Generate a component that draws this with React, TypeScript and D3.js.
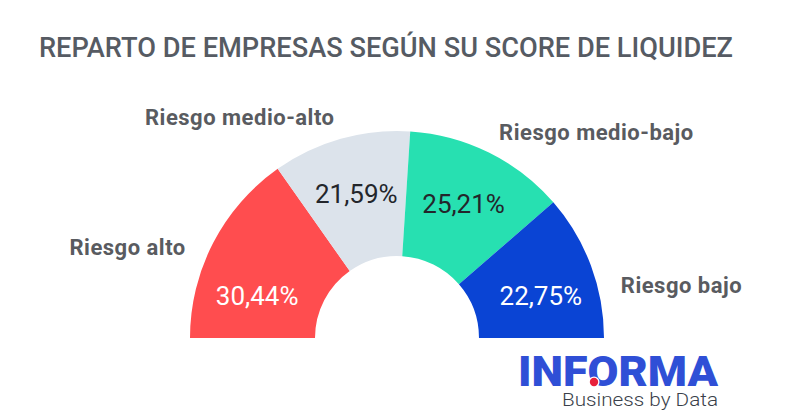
import * as d3 from 'd3';

// datos del gráfico
const categories = ['Riesgo alto', 'Riesgo medio-alto', 'Riesgo medio-bajo', 'Riesgo bajo'];
const shares = [30.44, 21.59, 25.21, 22.75];
const sliceColors = ['#FF4D4F', '#DCE3EB', '#27E0B1', '#0A44D4'];
const valueColors = ['#ffffff', '#23262b', '#23262b', '#ffffff'];
const title = 'REPARTO DE EMPRESAS SEGÚN SU SCORE DE LIQUIDEZ';

const W = 812;
const H = 419;
const cx = 397;
const cy = 338;
const outerR = 207;
const innerR = 82;

const fmt = (v: number) => v.toFixed(2).replace('.', ',') + '%';

type Slice = d3.PieArcDatum<number>;

// position along a ray; end slices get their label pulled toward the baseline
const polar = (d: Slice, i: number, r: number, endElev: (e: number, side: number) => number) => {
	const mid = (d.startAngle + d.endAngle) / 2;
	let elev = Math.PI / 2 - Math.abs(mid);
	if (i === 0 || i === shares.length - 1) elev = endElev(elev, Math.sign(mid));
	const a = Math.sign(mid) * (Math.PI / 2 - elev);
	return [cx + r * Math.sin(a), cy - r * Math.cos(a), mid] as const;
};

export default function App() {
	const pie = d3.pie<number>()
		.sort(null)
		.startAngle(-Math.PI / 2)
		.endAngle(Math.PI / 2);
	const arcs = pie(shares);

	const arc = d3.arc<Slice>()
		.innerRadius(innerR)
		.outerRadius(outerR);

	const font = 'Roboto, "Open Sans", sans-serif';

	return (
		<svg
			width={W}
			height={H}
			style={{ position: 'absolute', left: 0, top: 0, background: '#fff' }}
		>
			<text
				x={39}
				y={57}
				fontFamily={font}
				fontWeight={500}
				fontSize={28}
				fill="#565b63"
				textLength={694}
				lengthAdjust="spacingAndGlyphs"
			>
				{title}
			</text>

			<g>
				{arcs.map((d, i) => (
					<path
						key={categories[i]}
						d={arc(d) ?? undefined}
						transform={`translate(${cx},${cy})`}
						fill={sliceColors[i]}
					/>
				))}
			</g>

			<g fontFamily={font} fontSize={26}>
				{arcs.map((d, i) => {
					const [x, y] = polar(d, i, 150, () => (16.5 * Math.PI) / 180);
					return (
						<text
							key={categories[i]}
							x={x + (i === 0 ? 4 : 0)}
							y={y}
							dy="0.36em"
							textAnchor="middle"
							fill={valueColors[i]}
						>
							{fmt(shares[i])}
						</text>
					);
				})}
			</g>

			<g fontFamily={font} fontWeight={700} fontSize={22} fill="#595b60" letterSpacing={0.5}>
				{arcs.map((d, i) => {
					const [x, y, mid] = polar(d, i, 230, (e, side) => e * (side < 0 ? 0.85 : 0.65));
					return (
						<text
							key={categories[i]}
							x={x}
							y={y}
							dy="0.36em"
							textAnchor={mid < 0 ? 'end' : 'start'}
						>
							{categories[i]}
						</text>
					);
				})}
			</g>

			{/* logo */}
			<g fontFamily={font}>
				<text
					x={518}
					y={386}
					fontWeight={900}
					fontSize={43}
					fill="#2F4FD6"
					textLength={200}
					lengthAdjust="spacingAndGlyphs"
				>
					INFORMA
				</text>
				<circle cx={594} cy={382} r={5.5} fill="#fff" />
				<circle cx={594} cy={382} r={4.2} fill="#E8203A" />
				<text
					x={562}
					y={406}
					fontWeight={300}
					fontSize={18}
					fill="#3a3f4a"
					textLength={156}
					lengthAdjust="spacingAndGlyphs"
				>
					Business by Data
				</text>
			</g>
		</svg>
	);
}
